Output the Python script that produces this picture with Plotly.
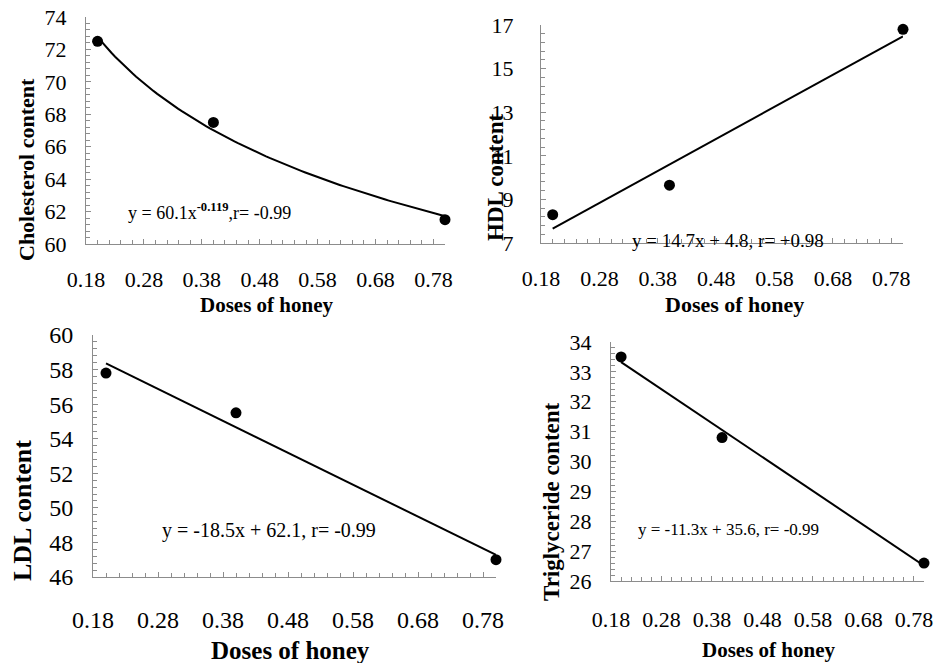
import numpy as np
import plotly.graph_objects as go

# ---------------- data ----------------
doses = [0.2, 0.4, 0.8]
cholesterol = [72.5, 67.5, 61.5]
hdl = [8.3, 9.65, 16.8]
ldl = [57.8, 55.5, 47.0]
triglyceride = [33.5, 30.8, 26.6]

x_tick_vals = [0.18, 0.28, 0.38, 0.48, 0.58, 0.68, 0.78]
x_tick_text = ["0.18", "0.28", "0.38", "0.48", "0.58", "0.68", "0.78"]

eq_chol = "y = 60.1x<sup><b>-0.119</b></sup>,r= -0.99"
eq_hdl = "y = 14.7x + 4.8, r= +0.98"
eq_ldl = "y = -18.5x + 62.1, r= -0.99"
eq_tri = "y = -11.3x + 35.6, r= -0.99"

W, H = 936, 663
FONT = "Liberation Serif, Times New Roman, serif"
AXC = "#8c8c8c"


def px(x):
    return x / W


def py(y):
    return 1 - y / H


fig = go.Figure()

xs = np.array(doses)
xfit = np.linspace(min(doses), max(doses), 100)

# power fit for cholesterol
b, lna = np.polyfit(np.log(xs), np.log(cholesterol), 1)
chol_fit = np.exp(lna) * xfit ** b

fits = [chol_fit]
for arr in (hdl, ldl, triglyceride):
    m, c = np.polyfit(xs, arr, 1)
    fits.append(m * xfit + c)

series = [cholesterol, hdl, ldl, triglyceride]
axes = [("x", "y"), ("x2", "y2"), ("x3", "y3"), ("x4", "y4")]

for s, f, (xa, ya) in zip(series, fits, axes):
    fig.add_trace(go.Scatter(x=xfit, y=f, mode="lines", line=dict(color="black", width=2),
                             xaxis=xa, yaxis=ya, showlegend=False, hoverinfo="skip"))
    fig.add_trace(go.Scatter(x=doses, y=s, mode="markers",
                             marker=dict(color="black", size=11),
                             xaxis=xa, yaxis=ya, showlegend=False, cliponaxis=False))

# panel pixel boxes: (left, right, top, bottom)
boxes = [(86, 445, 17, 244), (541, 903, 25, 243), (93, 496, 335, 577), (611, 924, 342, 581)]
yranges = [(60, 74), (7, 17), (46, 60), (26, 34)]
ydticks = [2, 2, 2, 1]
yminor = [0.4, 0.4, 0.4, 0.2]
ytickfs = [22, 22, 24, 22]
xtickfs = [22, 22, 24, 22]
xstand = [16, 16, 21, 19]
ystand = [14, 22, 14, 14]

layout = dict(width=W, height=H, margin=dict(l=0, r=0, t=0, b=0),
              paper_bgcolor="white", plot_bgcolor="white",
              font=dict(family=FONT, color="black"))

for i, (box, yr) in enumerate(zip(boxes, yranges)):
    n = "" if i == 0 else str(i + 1)
    l, r, t, bt = box
    layout["xaxis" + n] = dict(
        domain=[px(l), px(r)], range=[0.18, 0.80], anchor="y" + n, automargin=False,
        tickvals=x_tick_vals, ticktext=x_tick_text,
        ticks="inside", ticklen=5, tickcolor=AXC, showline=True, linecolor=AXC, linewidth=1,
        showgrid=False, zeroline=False,
        tickfont=dict(family=FONT, size=xtickfs[i], color="black"),
        ticklabelstandoff=xstand[i],
        minor=dict(tick0=0.18, dtick=0.02, ticks="inside", ticklen=4, tickcolor=AXC, showgrid=False),
    )
    layout["yaxis" + n] = dict(
        domain=[py(bt), py(t)], range=list(yr), anchor="x" + n, automargin=False,
        tick0=yr[0], dtick=ydticks[i],
        ticks="inside", ticklen=5, tickcolor=AXC, showline=True, linecolor=AXC, linewidth=1,
        showgrid=False, zeroline=False,
        tickfont=dict(family=FONT, size=ytickfs[i], color="black"),
        ticklabelstandoff=ystand[i],
        minor=dict(tick0=yr[0], dtick=yminor[i], ticks="inside", ticklen=4, tickcolor=AXC, showgrid=False),
    )

annotations = []


def ann(text, x, y, size, bold=False, angle=0):
    annotations.append(dict(
        text=f"<b>{text}</b>" if bold else text, x=px(x), y=py(y), xref="paper", yref="paper",
        xanchor="center", yanchor="middle", showarrow=False, textangle=angle,
        font=dict(family=FONT, size=size, color="black")))


# axis titles
ann("Cholesterol content", 27, 170, 22, True, -90)
ann("Doses of honey", 267, 305, 21, True)
ann("HDL content", 496, 178, 23, True, -90)
ann("Doses of honey", 734, 305, 22, True)
ann("LDL content", 22, 511, 26, True, -90)
ann("Doses of honey", 290, 650, 25, True)
ann("Triglyceride content", 551, 502, 23, True, -90)
ann("Doses of honey", 769, 650, 21, True)

# equations
ann(eq_chol, 209, 212, 18)
ann(eq_hdl, 728, 240, 19)
ann(eq_ldl, 269, 530, 20)
ann(eq_tri, 728, 529, 17)

layout["annotations"] = annotations
fig.update_layout(**layout)
fig.write_html("out.html")
